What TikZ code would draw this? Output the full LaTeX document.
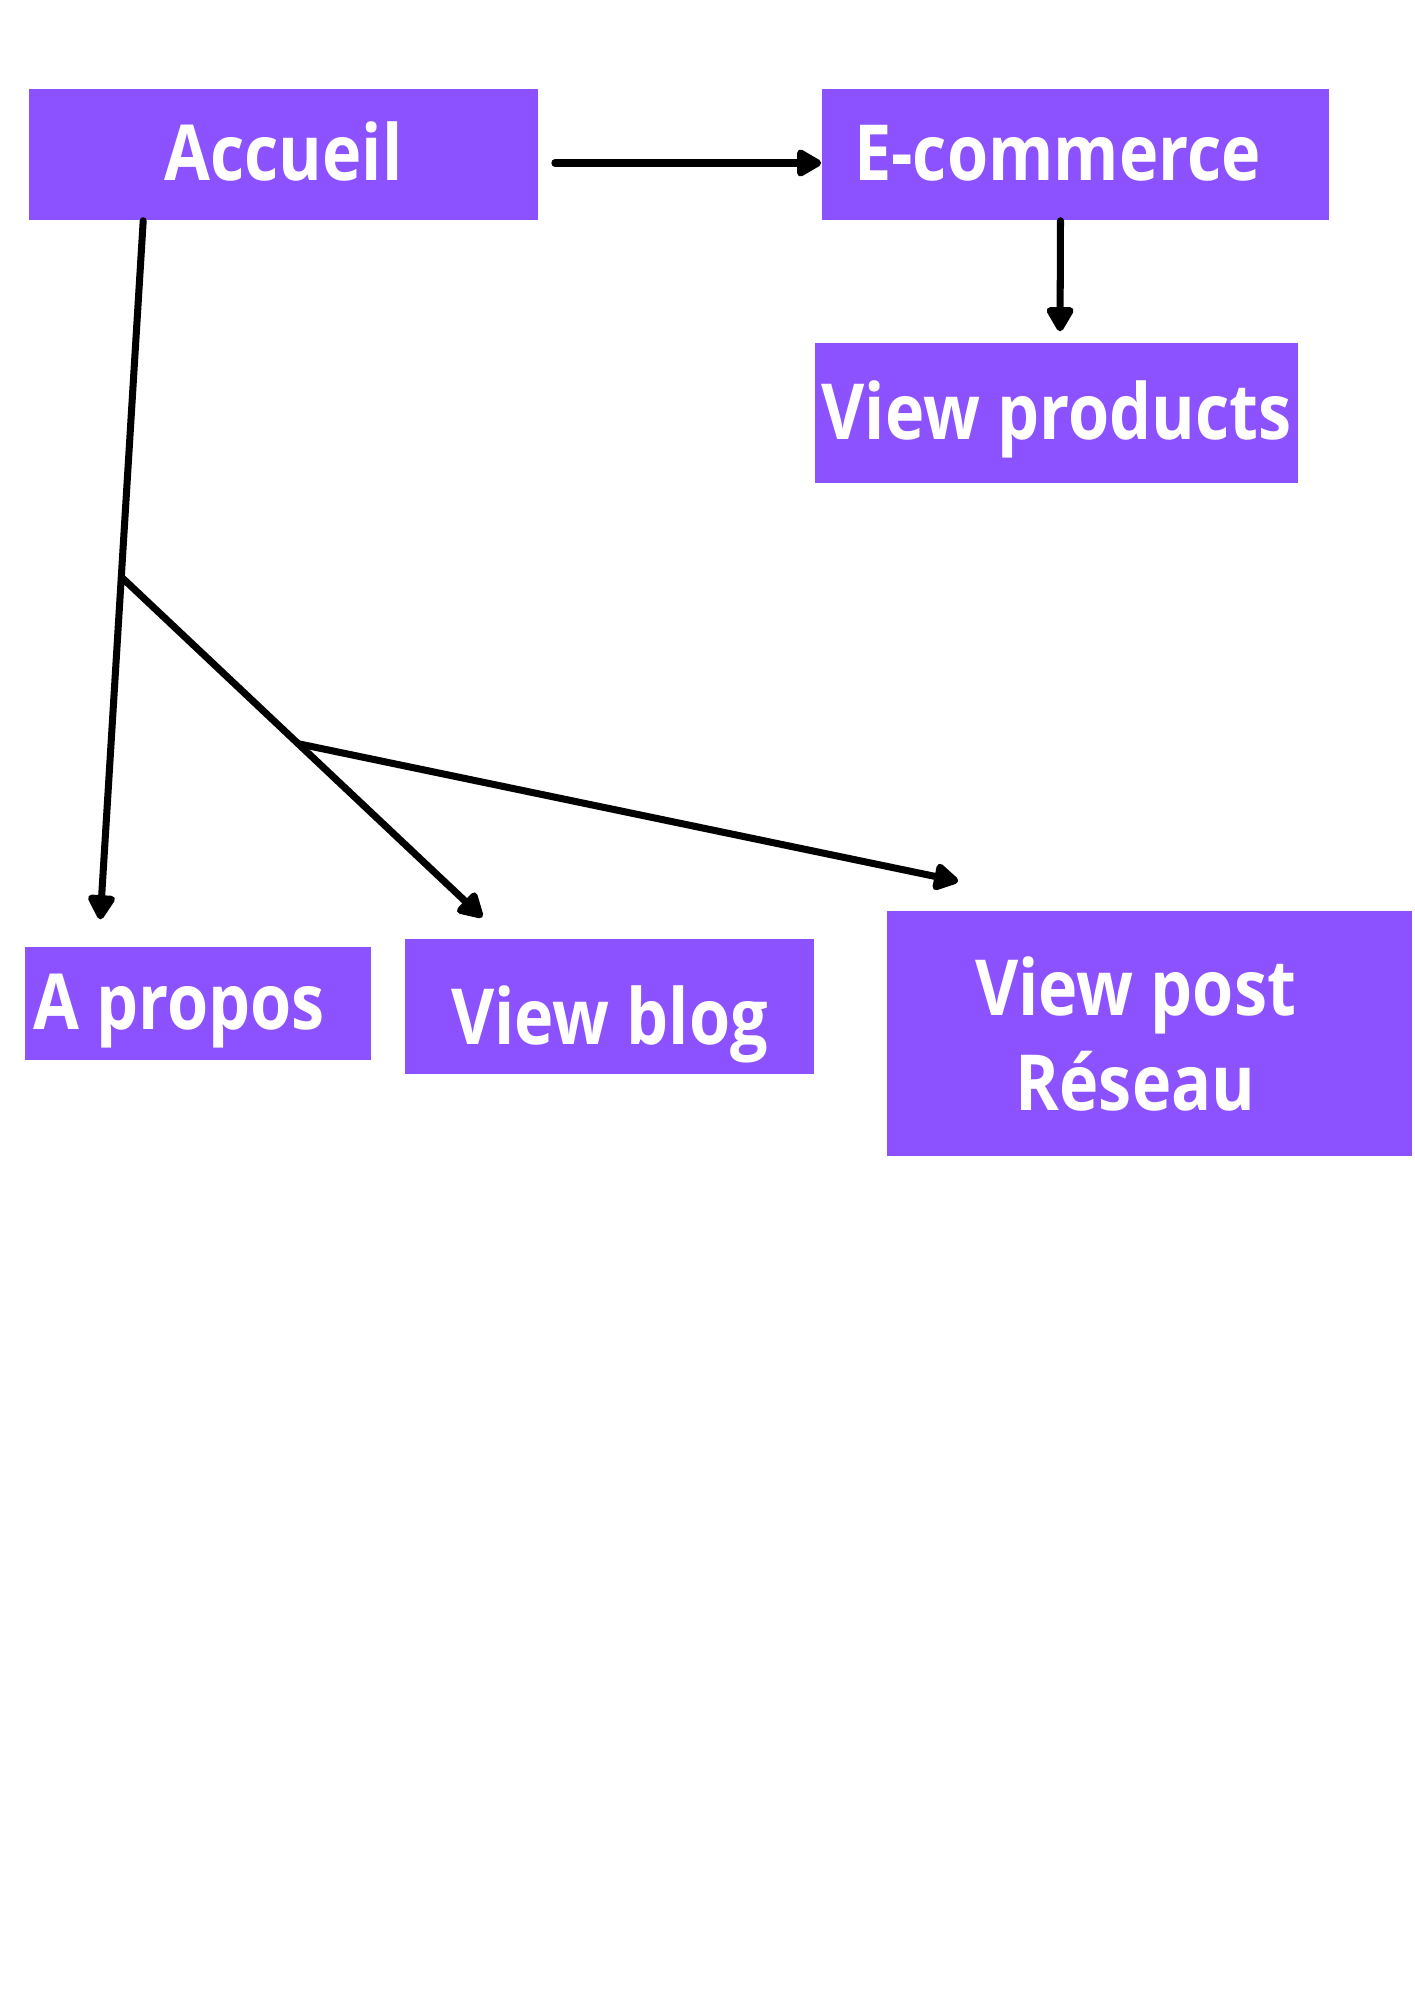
\documentclass[tikz,border=0pt]{standalone}
\usepackage{fontspec}
\setmainfont{Open Sans}[FakeStretch=0.86]
\usetikzlibrary{arrows.meta}
\definecolor{pagepurple}{RGB}{140,82,255}
\tikzset{
  pagebox/.style={rectangle, fill=pagepurple, text=white, inner sep=0pt,
    font=\fontsize{22}{27}\selectfont\bfseries, align=center},
  oneline/.style={text height=0.7cm, text depth=0.18cm},
  link/.style={line width=2pt, line cap=round,
    -{Triangle[length=0.28cm, width=0.3cm, round]}}
}
\begin{document}
\begin{tikzpicture}[x=0.01cm, y=-0.01cm]
  \useasboundingbox (0,0) rectangle (1414,2000);

  % Define pages
  \node[pagebox, oneline, minimum width=5.09cm, minimum height=1.31cm] (accueil) at (283.5,154.5) {Accueil};
  \node[pagebox, oneline, minimum width=5.07cm, minimum height=1.31cm] (ecommerce) at (1075.5,154.5) {E-commerce\hspace*{0.36cm}};
  \node[pagebox, oneline, minimum width=4.83cm, minimum height=1.40cm] (products) at (1056.5,413) {View products};
  \node[pagebox, oneline, minimum width=3.46cm, minimum height=1.13cm] (apropos) at (198,1003.5) {A propos\hspace*{0.38cm}};
  \node[pagebox, oneline, minimum width=4.09cm, minimum height=1.35cm, text height=0.94cm] (blog) at (609.5,1006.5) {View blog};
  \node[pagebox, minimum width=5.25cm, minimum height=2.45cm] (post) at (1149.5,1033.5) {View post\hspace*{0.28cm}\\Réseau\hspace*{0.28cm}};

  % Draw links
  \draw[link] ([xshift=0.16cm, yshift=-0.085cm]accueil.east) -- ([yshift=-0.085cm]ecommerce.west);
  \draw[link, shorten >=0.11cm] ([xshift=-0.15cm]ecommerce.south) -- ([xshift=0.035cm]products.north);
  \draw[link] ([xshift=1.15cm]accueil.south west) -- coordinate[pos=0.51] (fork1) ([xshift=0.76cm, yshift=0.27cm]apropos.north west);
  \draw[link] (fork1) -- coordinate[pos=0.49] (fork2) ([xshift=0.78cm, yshift=0.21cm]blog.north west);
  \draw[link] (fork2) -- ([xshift=0.72cm, yshift=0.29cm]post.north west);
\end{tikzpicture}
\end{document}
